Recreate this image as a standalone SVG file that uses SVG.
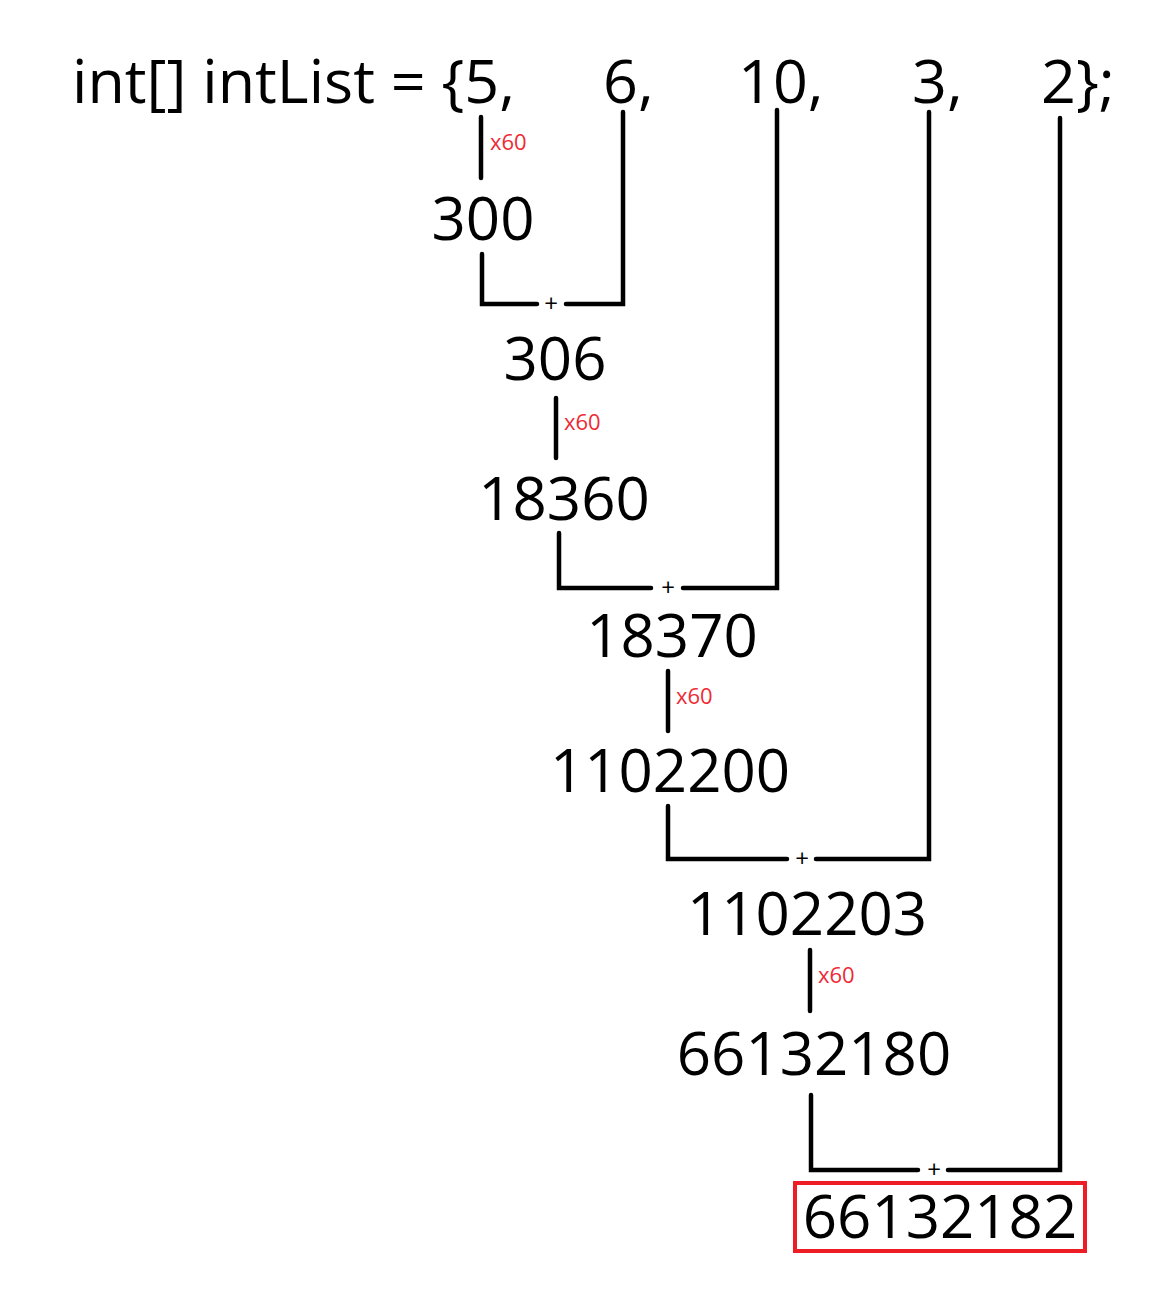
<svg xmlns="http://www.w3.org/2000/svg" width="1172" height="1314" viewBox="0 0 1172 1314">
<style>
.t{font-family:"Open Sans","Noto Sans",sans-serif;font-size:61px;fill:#000}
.n{font-family:"Open Sans","Noto Sans",sans-serif;font-size:60px;fill:#000;text-anchor:middle}
.m{font-family:"Open Sans","Noto Sans",sans-serif;font-size:22px;fill:#ee2a35}
.p{font-family:"Open Sans","Noto Sans",sans-serif;font-size:24px;fill:#000;text-anchor:middle}
.c{fill:none;stroke:#000;stroke-width:4.5;stroke-linecap:round;stroke-linejoin:miter}
</style>
<rect width="1172" height="1314" fill="#fff"/>
<g id="header">
<text class="t" x="72" y="103">int[] intList = {5,</text>
<text class="t" x="603" y="103">6,</text>
<text class="t" x="738" y="103">10,</text>
<text class="t" x="912" y="103">3,</text>
<text class="t" x="1041" y="103">2};</text>
</g>
<g id="connectors">
<path class="c" d="M481,117 V178"/>
<path class="c" d="M482,254 V304 H537 M566,304 H623 V112"/>
<path class="c" d="M556,398 V458"/>
<path class="c" d="M559,533 V588 H651 M683,588 H777 V110"/>
<path class="c" d="M668,671 V731"/>
<path class="c" d="M668,806 V859 H787 M816,859 H929 V112"/>
<path class="c" d="M810,950 V1011"/>
<path class="c" d="M811,1095 V1170 H918 M948,1170 H1060 V118"/>
</g>
<g id="labels">
<text class="m" x="490" y="150">x60</text>
<text class="m" x="564" y="430">x60</text>
<text class="m" x="676" y="704">x60</text>
<text class="m" x="818" y="983">x60</text>
<text class="p" x="551" y="312">+</text>
<text class="p" x="668" y="596">+</text>
<text class="p" x="802" y="867">+</text>
<text class="p" x="934" y="1178">+</text>
</g>
<g id="n300"><text class="n" x="483" y="240">300</text></g>
<g id="n306"><text class="n" x="555" y="380">306</text></g>
<g id="n18360"><text class="n" x="564" y="520">18360</text></g>
<g id="n18370"><text class="n" x="672" y="657">18370</text></g>
<g id="n1102200"><text class="n" x="670" y="792">1102200</text></g>
<g id="n1102203"><text class="n" x="807" y="935">1102203</text></g>
<g id="n66132180"><text class="n" x="814" y="1075">66132180</text></g>
<g id="n66132182">
<rect x="795" y="1183" width="290" height="68" fill="none" stroke="#ee1c25" stroke-width="4"/>
<text class="n" x="940" y="1238">66132182</text>
</g>
</svg>
